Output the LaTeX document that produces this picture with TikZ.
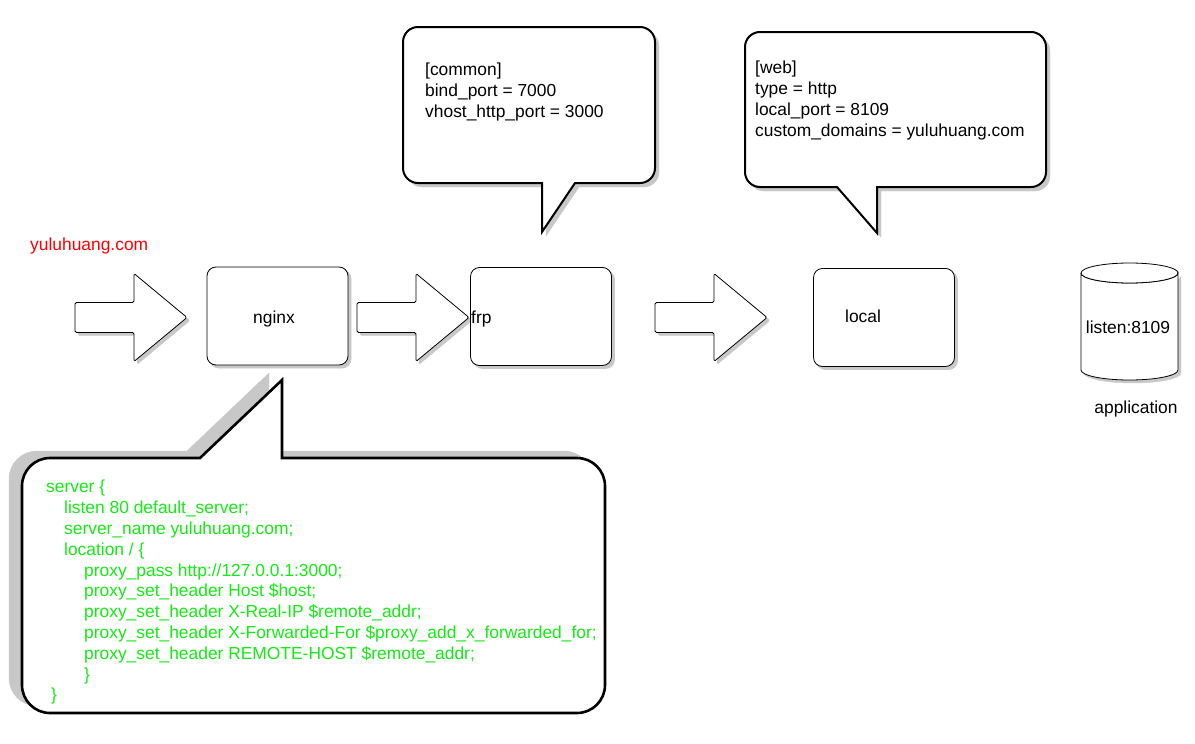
\documentclass[tikz,border=0pt]{standalone}
\usepackage{fontspec}
\setmainfont{Liberation Sans}
\usetikzlibrary{positioning}
\definecolor{codegreen}{RGB}{20,235,20}
\definecolor{shadowgray}{RGB}{200,200,200}

\begin{document}
\begin{tikzpicture}[x=1pt, y=-1pt,
  every node/.style={font=\fontsize{17.4}{20.8}\selectfont, inner sep=0pt},
  softshadow/.style={preaction={fill=shadowgray, draw=shadowgray, transform canvas={shift={#1}}}},
  softshadow/.default={(3pt,-3pt)},
  box/.style={draw, fill=white, rounded corners=9pt, line width=0.8pt,
    minimum width=141pt, minimum height=98pt, softshadow},
  blockarrow/.style={draw, fill=white, line width=0.8pt, rounded corners=1.5pt, softshadow},
  bubble/.style={draw, fill=white, line width=2pt, line join=miter},
  cfg/.style={anchor=north west, align=left}]
  \useasboundingbox (0,0) rectangle (1195,744);

  % block arrows
  \foreach \L in {75,357,655}
    \draw[blockarrow] (\L,302.5) -- ++(59,0) -- ++(0,-29) -- ++(53,44)
      -- ++(-53,44) -- ++(0,-29) -- ++(-59,0) -- cycle;

  % boxes
  \node[box] (nginx) at (277.5,316) {};
  \node[box] (frp)   at (541,316.5) {};
  \node[box] (local) at (884,317.5) {};
  \node[anchor=base] (nginxlabel) at (274,323) {nginx};
  \node[anchor=base west] (frplabel) at (471,323) {frp};
  \node[anchor=base west] (locallabel) at (845,322) {local};

  \node[anchor=base west, text=red] (domain) at (30,250) {yuluhuang.com};

  % application cylinder
  \draw[fill=white, line width=0.8pt, softshadow] (1081,273) -- (1081,370)
    arc (180:0:48.5 and 10) -- (1178,273) arc (0:180:48.5 and 10);
  \draw[fill=white, line width=0.8pt] (1129.5,273) ellipse (48.5 and 10);
  \node[anchor=base] (app) at (1128,333) {listen:8109};
  \node[anchor=base] (applabel) at (1136,413) {application};

  % callout for frp
  \draw[bubble, softshadow={(4pt,-4pt)}] (529,27) [rounded corners=15] -- (403,27) -- (403,183)
    [sharp corners] -- (542,183) -- (542,232) -- (575,183) [rounded corners=15]
    -- (655,183) -- (655,27) -- cycle;
  \node[cfg] (commoncfg) at (425,63) {[common]\\bind\_port = 7000\\vhost\_http\_port = 3000};

  % callout for local
  \draw[bubble, softshadow={(4pt,-4pt)}] (895,32) [rounded corners=15] -- (745,32) -- (745,187)
    [sharp corners] -- (837,187) -- (877,233) -- (877,187) [rounded corners=15]
    -- (1046,187) -- (1046,32) -- cycle;
  \node[cfg] (webcfg) at (755,61) {[web]\\type = http\\local\_port = 8109\\custom\_domains = yuluhuang.com};

  % callout for nginx
  \draw[bubble, line width=2.6pt, softshadow={(-13pt,7pt)}] (440,458) [rounded corners=28]
    -- (605,458) -- (605,713) -- (22,713) -- (22,458)
    [sharp corners] -- (200,458) -- (282,380) -- (282,458) [rounded corners=28] -- cycle;
  \node[cfg, text=codegreen] (nginxcfg) at (46,480) {server \{\\
    \hspace*{18pt}listen 80 default\_server;\\
    \hspace*{18pt}server\_name yuluhuang.com;\\
    \hspace*{18pt}location / \{\\
    \hspace*{38pt}proxy\_pass http://127.0.0.1:3000;\\
    \hspace*{38pt}proxy\_set\_header Host \$host;\\
    \hspace*{38pt}proxy\_set\_header X-Real-IP \$remote\_addr;\\
    \hspace*{38pt}proxy\_set\_header X-Forwarded-For \$proxy\_add\_x\_forwarded\_for;\\
    \hspace*{38pt}proxy\_set\_header REMOTE-HOST \$remote\_addr;\\
    \hspace*{38pt}\}\\
    \hspace*{5pt}\}};
\end{tikzpicture}
\end{document}
